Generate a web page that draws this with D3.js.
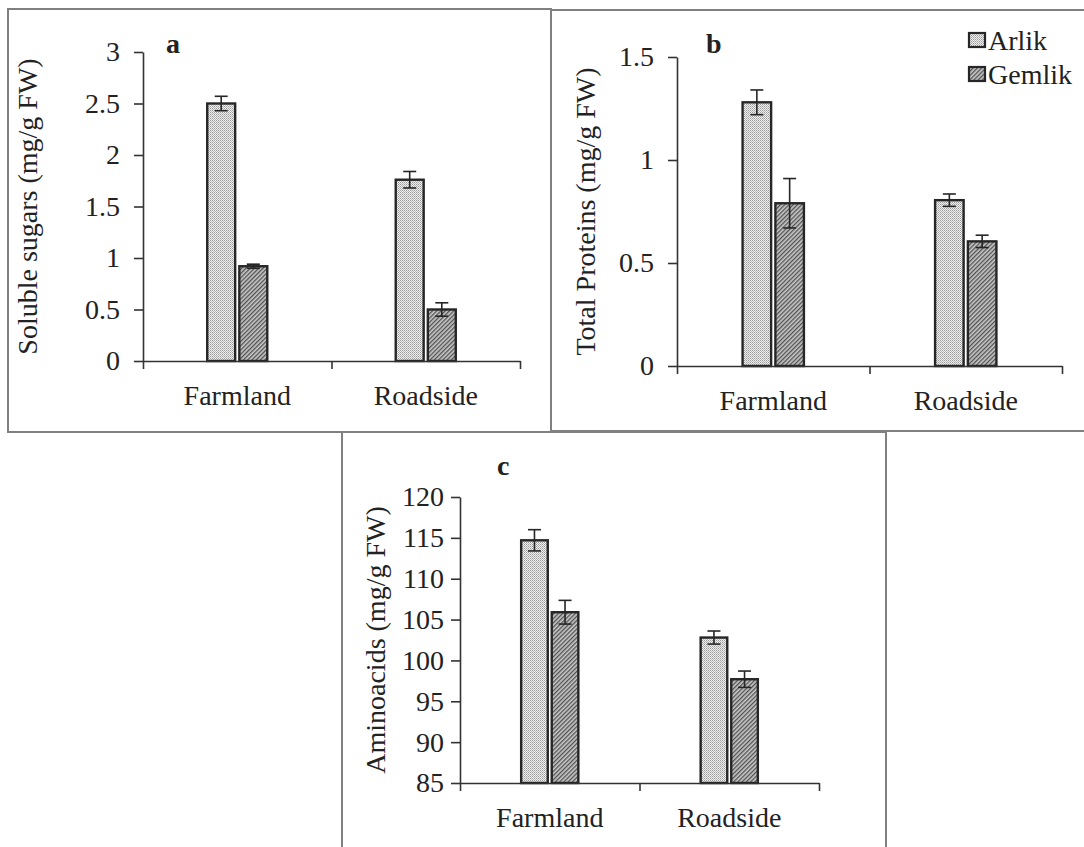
<!DOCTYPE html>
<html>
<head>
<meta charset="utf-8">
<script src="https://cdn.jsdelivr.net/npm/d3@7"></script>
<style>
  html, body { margin: 0; padding: 0; background: #fff; }
  svg { display: block; }
  text { font-family: "Liberation Serif", "Times New Roman", serif; fill: #222; }
</style>
</head>
<body>
<svg id="chart" width="1084" height="847"></svg>
<script>
// data
var categories = ['Farmland', 'Roadside'];
var cultivars = ['Arlik', 'Gemlik'];

var sugarsArlik = [2.50, 1.76];
var sugarsGemlik = [0.92, 0.50];
var sugarsArlikErr = [0.07, 0.08];
var sugarsGemlikErr = [0.02, 0.065];
var sugarTicks = [0, 0.5, 1, 1.5, 2, 2.5, 3];

var proteinsArlik = [1.28, 0.805];
var proteinsGemlik = [0.79, 0.605];
var proteinsArlikErr = [0.06, 0.03];
var proteinsGemlikErr = [0.12, 0.03];
var proteinTicks = [0, 0.5, 1, 1.5];

var aminoArlik = [114.7, 102.8];
var aminoGemlik = [105.9, 97.7];
var aminoArlikErr = [1.3, 0.8];
var aminoGemlikErr = [1.45, 1.0];
var aminoTicks = [85, 90, 95, 100, 105, 110, 115, 120];

// layout of the three panels
var panels = [
    {
        letter: 'a', box: [8, 9, 543, 423],
        left: 143, right: 520, top: 52, bottom: 361,
        ticks: sugarTicks, tickPad: 14,
        means: [sugarsArlik, sugarsGemlik], errs: [sugarsArlikErr, sugarsGemlikErr],
        title: 'Soluble sugars (mg/g FW)', titleX: 27, letterX: 166, letterY: 53
    },
    {
        letter: 'b', box: [551, 10, 540, 421],
        left: 677, right: 1062, top: 57, bottom: 366,
        ticks: proteinTicks, tickPad: 14,
        means: [proteinsArlik, proteinsGemlik], errs: [proteinsArlikErr, proteinsGemlikErr],
        title: 'Total Proteins (mg/g FW)', titleX: 585, letterX: 706, letterY: 53
    },
    {
        letter: 'c', box: [342, 432, 544, 430],
        left: 460, right: 819, top: 497, bottom: 783,
        ticks: aminoTicks, tickPad: 7,
        means: [aminoArlik, aminoGemlik], errs: [aminoArlikErr, aminoGemlikErr],
        title: 'Aminoacids (mg/g FW)', titleX: 375, letterX: 497, letterY: 475
    }
];

var fontSize = '28px';
var fills = { Arlik: 'url(#dots)', Gemlik: 'url(#hatch)' };

var svg = d3.select('#chart');
var defs = svg.append('defs');

// fine stipple for Arlik
var dots = defs.append('pattern').attr('id', 'dots')
    .attr('patternUnits', 'userSpaceOnUse').attr('width', 2).attr('height', 2);
dots.append('rect').attr('width', 2).attr('height', 2).attr('fill', '#f0f0f0');
dots.append('rect').attr('width', 1).attr('height', 1).attr('fill', '#9a9a9a');
dots.append('rect').attr('x', 1).attr('y', 1).attr('width', 1).attr('height', 1).attr('fill', '#b8b8b8');

// diagonal hatch for Gemlik
var hatch = defs.append('pattern').attr('id', 'hatch')
    .attr('patternUnits', 'userSpaceOnUse').attr('width', 3).attr('height', 3)
    .attr('patternTransform', 'rotate(45)');
hatch.append('rect').attr('width', 3).attr('height', 3).attr('fill', '#c8c8c8');
hatch.append('line').attr('x1', 0.6).attr('y1', 0).attr('x2', 0.6).attr('y2', 3)
    .attr('stroke', '#505050').attr('stroke-width', 1.4);

function drawPanel(p) {
    var g = svg.append('g');

    g.append('rect')
        .attr('x', p.box[0]).attr('y', p.box[1])
        .attr('width', p.box[2]).attr('height', p.box[3])
        .attr('fill', 'none').attr('stroke', '#808080').attr('stroke-width', 2);

    var y = d3.scaleLinear()
        .domain([p.ticks[0], p.ticks[p.ticks.length - 1]])
        .range([p.bottom, p.top]);

    var x0 = d3.scaleBand().domain(categories).range([p.left, p.right]);
    var x1 = d3.scaleBand().domain(cultivars).range([0, x0.bandwidth()])
        .paddingInner(0.13).paddingOuter(2);

    var rows = [];
    categories.forEach(function(c, i) {
        cultivars.forEach(function(s, j) {
            rows.push({ cat: c, cult: s, v: p.means[j][i], e: p.errs[j][i] });
        });
    });

    // bars
    g.selectAll('rect.bar')
        .data(rows)
        .enter()
        .append('rect')
        .attr('class', 'bar')
        .attr('x', function(d) { return x0(d.cat) + x1(d.cult); })
        .attr('y', function(d) { return y(d.v); })
        .attr('width', x1.bandwidth())
        .attr('height', function(d) { return p.bottom - y(d.v); })
        .attr('fill', function(d) { return fills[d.cult]; })
        .attr('stroke', '#262626')
        .attr('stroke-width', 2.4);

    // error bars
    var eb = g.selectAll('g.err')
        .data(rows)
        .enter()
        .append('g')
        .attr('class', 'err')
        .attr('stroke', '#262626')
        .attr('stroke-width', 1.6);
    function cx(d) { return x0(d.cat) + x1(d.cult) + x1.bandwidth() / 2; }
    eb.append('line')
        .attr('x1', cx).attr('x2', cx)
        .attr('y1', function(d) { return y(d.v + d.e); })
        .attr('y2', function(d) { return y(d.v - d.e); });
    eb.append('line')
        .attr('x1', function(d) { return cx(d) - 6.5; })
        .attr('x2', function(d) { return cx(d) + 6.5; })
        .attr('y1', function(d) { return y(d.v + d.e); })
        .attr('y2', function(d) { return y(d.v + d.e); });
    eb.append('line')
        .attr('x1', function(d) { return cx(d) - 6.5; })
        .attr('x2', function(d) { return cx(d) + 6.5; })
        .attr('y1', function(d) { return y(d.v - d.e); })
        .attr('y2', function(d) { return y(d.v - d.e); });

    // y axis
    var yAxis = g.append('g')
        .attr('transform', 'translate(' + p.left + ',0)')
        .call(d3.axisLeft(y)
            .tickValues(p.ticks)
            .tickSize(9)
            .tickSizeOuter(0)
            .tickPadding(p.tickPad)
            .tickFormat(function(d) { return String(d); }));

    // x axis: ticks on the category boundaries
    var xb = d3.scaleLinear().domain([0, categories.length]).range([p.left, p.right]);
    var xAxis = g.append('g')
        .attr('transform', 'translate(0,' + p.bottom + ')')
        .call(d3.axisBottom(xb)
            .tickValues(d3.range(categories.length + 1))
            .tickSize(8)
            .tickSizeOuter(0)
            .tickFormat(''));

    [yAxis, xAxis].forEach(function(a) {
        a.attr('font-family', null).attr('font-size', null);
        a.selectAll('path, line').attr('stroke', '#333').attr('stroke-width', 1.6);
        a.selectAll('text').attr('fill', '#222').style('font-size', fontSize);
    });

    g.selectAll('text.cat')
        .data(categories)
        .enter()
        .append('text')
        .attr('class', 'cat')
        .attr('x', function(c) { return x0(c) + x0.bandwidth() / 2; })
        .attr('y', p.bottom + 44)
        .attr('text-anchor', 'middle')
        .style('font-size', fontSize)
        .text(function(c) { return c; });

    g.append('text')
        .attr('transform', 'translate(' + p.titleX + ',' + (p.top + p.bottom) / 2 + ') rotate(-90)')
        .attr('text-anchor', 'middle')
        .attr('dominant-baseline', 'central')
        .style('font-size', fontSize)
        .text(p.title);

    g.append('text')
        .attr('x', p.letterX)
        .attr('y', p.letterY)
        .style('font-size', fontSize)
        .style('font-weight', 'bold')
        .text(p.letter);
}

panels.forEach(drawPanel);

// legend (inside panel b)
var legend = svg.append('g');
var items = legend.selectAll('g')
    .data(cultivars)
    .enter()
    .append('g')
    .attr('transform', function(d, i) { return 'translate(969,' + (33 + i * 34) + ')'; });
items.append('rect')
    .attr('width', 16).attr('height', 14)
    .attr('fill', function(d) { return fills[d]; })
    .attr('stroke', '#262626').attr('stroke-width', 2.2);
items.append('text')
    .attr('x', 19).attr('y', 17)
    .style('font-size', fontSize)
    .text(function(d) { return d; });
</script>
</body>
</html>
